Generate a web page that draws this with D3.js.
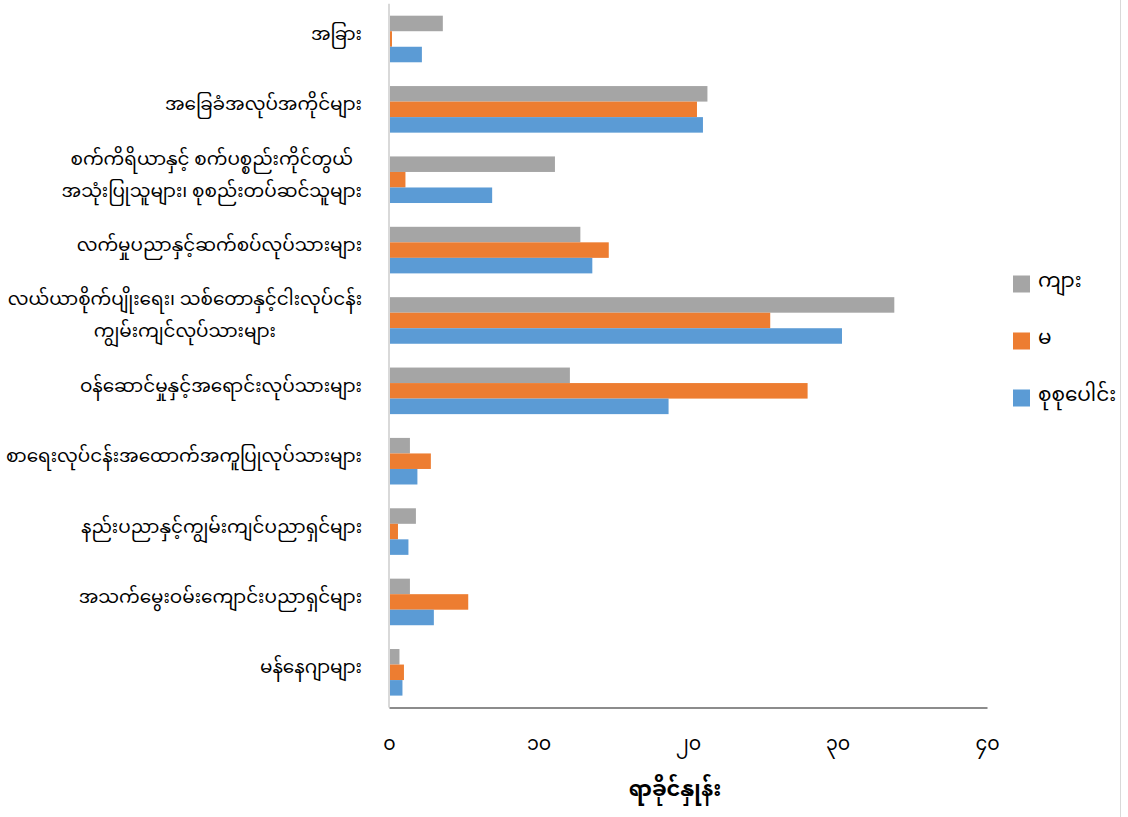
<!DOCTYPE html>
<html>
<head>
<meta charset="utf-8">
<script src="https://cdn.jsdelivr.net/npm/d3@7"></script>
<style>
  html, body { margin: 0; padding: 0; background: #fff; }
  svg { display: block; }
  text { font-family: "Myanmar Text", "Noto Sans Myanmar", "Noto Sans Myanmar UI", "Padauk", "Myanmar3", "Pyidaungsu", "Noto Sans", sans-serif; fill: #000; }
</style>
</head>
<body>
<svg id="chart" width="1128" height="817"></svg>
<script>
// ---- data ----
const categories = [
  ["အခြား"],
  ["အခြေခံအလုပ်အကိုင်များ"],
  ["စက်ကိရိယာနှင့် စက်ပစ္စည်းကိုင်တွယ်", "အသုံးပြုသူများ၊ စုစည်းတပ်ဆင်သူများ"],
  ["လက်မှုပညာနှင့်ဆက်စပ်လုပ်သားများ"],
  ["လယ်ယာစိုက်ပျိုးရေး၊ သစ်တောနှင့်ငါးလုပ်ငန်း", "ကျွမ်းကျင်လုပ်သားများ"],
  ["ဝန်ဆောင်မှုနှင့်အရောင်းလုပ်သားများ"],
  ["စာရေးလုပ်ငန်းအထောက်အကူပြုလုပ်သားများ"],
  ["နည်းပညာနှင့်ကျွမ်းကျင်ပညာရှင်များ"],
  ["အသက်မွေးဝမ်းကျောင်းပညာရှင်များ"],
  ["မန်နေဂျာများ"]
];
const seriesNames = ["ကျား", "မ", "စုစုပေါင်း"];
const maleValues   = [3.6, 21.3, 11.1, 12.8, 33.8, 12.1, 1.4, 1.8, 1.4, 0.7];
const femaleValues = [0.2, 20.6, 1.1, 14.7, 25.5, 28.0, 2.8, 0.6, 5.3, 1.0];
const totalValues  = [2.2, 21.0, 6.9, 13.6, 30.3, 18.7, 1.9, 1.3, 3.0, 0.9];
const seriesColors = ["#A5A5A5", "#ED7D31", "#5B9BD5"];
const tickValues = [0, 10, 20, 30, 40];
const tickLabels = ["၀", "၁၀", "၂၀", "၃၀", "၄၀"];
const axisTitle = "ရာခိုင်နှုန်း";

// ---- layout ----
const svg = d3.select("#chart");
const plotLeft = 389, plotRight = 987, plotTop = 3.8, plotBottom = 707.5;

const x = d3.scaleLinear().domain([0, 40]).range([plotLeft, plotRight]);
const y0 = d3.scaleBand().domain(d3.range(categories.length))
  .range([plotTop, plotBottom]).paddingInner(0.338).paddingOuter(0.169);
const y1 = d3.scaleBand().domain(d3.range(3)).range([0, y0.bandwidth()]);

const allSeries = [maleValues, femaleValues, totalValues];

// bars
const groups = svg.append("g").selectAll("g")
  .data(d3.range(categories.length)).join("g")
  .attr("transform", i => `translate(0,${y0(i)})`);
groups.selectAll("rect")
  .data(i => allSeries.map((s, k) => ({k, v: s[i]}))).join("rect")
  .attr("x", x(0) + 1)
  .attr("y", d => y1(d.k))
  .attr("width", d => Math.max(0, x(d.v) - x(0) - 1))
  .attr("height", y1.bandwidth())
  .attr("fill", d => seriesColors[d.k]);

// left axis line
svg.append("line").attr("x1", plotLeft).attr("x2", plotLeft)
  .attr("y1", plotTop).attr("y2", plotBottom)
  .attr("stroke", "#d9d9d9").attr("stroke-width", 2);
// bottom axis
const xAxis = d3.axisBottom(x).tickValues(tickValues)
  .tickFormat((d, i) => tickLabels[i]).tickSize(0).tickPadding(29);
const gx = svg.append("g").attr("transform", `translate(0,${plotBottom})`).call(xAxis);
gx.select(".domain").attr("stroke", "#8c8c8c").attr("stroke-width", 2);
gx.selectAll("text").attr("font-size", 19).style("font-family", null);

// category labels
const labels = svg.append("g");
categories.forEach((lines, i) => {
  const cy = y0(i) + y0.bandwidth() / 2;
  const lh = 32;
  const t = labels.append("text")
    .attr("x", 362).attr("text-anchor", "end").attr("font-size", 18.4);
  lines.forEach((ln, j) => {
    t.append("tspan").attr("x", 362)
      .attr("y", cy + (j - (lines.length - 1) / 2) * lh + 1)
      .text(ln);
  });
  if (lines.length > 1) {
    const tsp = t.selectAll("tspan").nodes();
    const widths = tsp.map(n => n.getComputedTextLength());
    const maxW = Math.max(...widths);
    tsp.forEach((n, j) => {
      d3.select(n).attr("x", 362 - (maxW - widths[j]) / 2);
    });
  }
});

// axis title
svg.append("text").attr("x", 675).attr("y", 796)
  .attr("text-anchor", "middle").attr("font-size", 21).attr("font-weight", "bold")
  .text(axisTitle);

// legend
const legend = svg.append("g");
seriesNames.forEach((name, k) => {
  const cy = 284 + k * 57;
  legend.append("rect").attr("x", 1013).attr("y", cy - 8.5)
    .attr("width", 17).attr("height", 17).attr("fill", seriesColors[k]);
  legend.append("text").attr("x", 1038).attr("y", cy + 3)
    .attr("font-size", 20).text(name);
});

// chart border right edge
svg.append("line").attr("x1", 1120.5).attr("x2", 1120.5).attr("y1", 0).attr("y2", 817)
  .attr("stroke", "#d9d9d9").attr("stroke-width", 1);
</script>
</body>
</html>
